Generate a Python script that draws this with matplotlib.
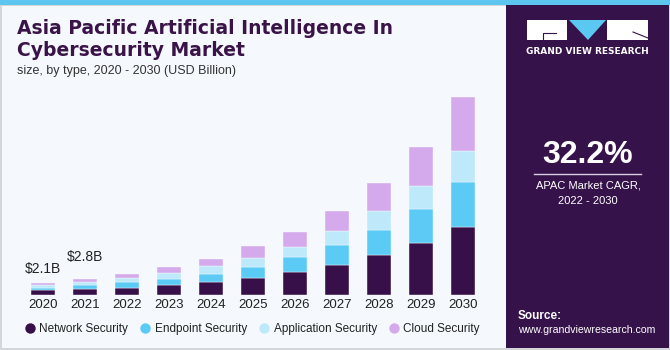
import matplotlib.pyplot as plt
import matplotlib.patches as patches
from matplotlib.colors import LinearSegmentedColormap
from matplotlib.lines import Line2D
import numpy as np

# data (USD Billion)
years = ['2020', '2021', '2022', '2023', '2024', '2025', '2026', '2027', '2028', '2029', '2030']
network = [0.82, 1.00, 1.28, 1.80, 2.33, 3.03, 3.97, 5.20, 6.95, 9.05, 11.90]
endpoint = [0.46, 0.70, 0.95, 1.00, 1.40, 1.93, 2.63, 3.55, 4.43, 6.00, 7.88]
application = [0.47, 0.53, 0.75, 1.05, 1.35, 1.52, 1.86, 2.45, 3.33, 4.03, 5.34]
cloud = [0.35, 0.53, 0.70, 1.05, 1.23, 2.10, 2.63, 3.55, 4.85, 6.88, 9.54]
series_names = ['Network Security', 'Endpoint Security', 'Application Security', 'Cloud Security']
colors = ['#37104A', '#5BCBF5', '#BEE9FA', '#D4AAEC']
value_labels = {0: '$2.1B', 1: '$2.8B'}
label_offsets = {0: 5, 1: 11}

BG = '#F5F9FD'
PANEL = '#36124A'
W, H = 670, 350


def px(x):
    return x / W


def py(y):
    return 1 - y / H


fig = plt.figure(figsize=(6.7, 3.5), dpi=100)
fig.patch.set_facecolor(BG)

# frame, top band and right panel
fig.patches.append(patches.Rectangle((px(1), py(348.5)), px(668), 343.5 / H, transform=fig.transFigure,
                                     facecolor='none', edgecolor='#CDD1D6', lw=1.2))
fig.patches.append(patches.Rectangle((0, py(5)), 1, 5 / H, transform=fig.transFigure,
                                     facecolor='#5DC6EE', edgecolor='none'))
fig.patches.append(patches.Rectangle((px(506), py(348)), px(163), (348 - 5) / H, transform=fig.transFigure,
                                     facecolor=PANEL, edgecolor='none'))

# main chart
ax = fig.add_axes([px(20), py(295), px(466), 228.6 / H])
ax.set_facecolor(BG)
x = np.arange(len(years))
bottom = np.zeros(len(years))
for vals, col, name in zip([network, endpoint, application, cloud], colors, series_names):
    ax.bar(x, vals, width=0.57, bottom=bottom, color=col, edgecolor=BG, linewidth=0.3, label=name)
    bottom = bottom + np.array(vals)

for i, txt in value_labels.items():
    ax.annotate(txt, (x[i], bottom[i]), xytext=(0, label_offsets[i]), textcoords='offset points',
                ha='center', va='bottom', fontsize=10, color='#222222', family='Liberation Sans')

ax.set_xlim(-0.55, 10.55)
ax.set_ylim(0, 40)
ax.set_xticks(x)
ax.set_xticklabels(years, fontsize=9.5, color='#222222', family='Liberation Sans')
ax.tick_params(axis='x', length=0, pad=3)
ax.set_yticks([])
for s in ax.spines.values():
    s.set_visible(False)

handles = [Line2D([], [], marker='o', ls='none', markersize=7.5, markerfacecolor=c, markeredgecolor='none')
           for c in colors]
fig.legend(handles, series_names, loc='center', bbox_to_anchor=(px(252), py(329)), ncol=4, frameon=False,
           prop={'family': 'Liberation Sans', 'size': 8.5}, labelcolor='#222222',
           handletextpad=0.3, columnspacing=0.95, handlelength=1.0)

# titles
fig.text(px(17), py(40), 'Asia Pacific Artificial Intelligence In\nCybersecurity Market', fontsize=13.5,
         fontweight='bold', color='#3A1448', family='DejaVu Sans', va='center', linespacing=1.2)
fig.text(px(17), py(71), 'size, by type, 2020 - 2030 (USD Billion)', fontsize=9, color='#333333',
         family='Liberation Sans', va='center')

# logo
fig.patches.append(patches.Rectangle((px(527), py(40)), px(40), 20 / H, transform=fig.transFigure,
                                     facecolor='white', edgecolor='none'))
fig.patches.append(patches.Rectangle((px(607), py(40)), px(41), 20 / H, transform=fig.transFigure,
                                     facecolor='white', edgecolor='none'))
fig.patches.append(patches.Polygon([(px(569), py(20)), (px(606), py(20)), (px(588), py(40))],
                                   transform=fig.transFigure, facecolor='#5BC8F2', edgecolor='none'))
fig.lines.append(Line2D([px(543), px(543), px(556)], [py(40), py(32.5), py(32.5)],
                        transform=fig.transFigure, color=PANEL, lw=0.8))
fig.lines.append(Line2D([px(633), px(648)], [py(32), py(38)], transform=fig.transFigure, color=PANEL, lw=0.8))
fig.text(px(587.5), py(51), 'GRAND VIEW RESEARCH', fontsize=6.5, fontweight='bold', color='white',
         ha='center', va='center', family='DejaVu Sans')

# CAGR block
fig.text(px(588), py(155), '32.2%', fontsize=23, fontweight='bold', color='white', ha='center', va='center',
         family=['Liberation Sans Narrow', 'Liberation Sans'])
fig.lines.append(Line2D([px(534), px(641)], [py(173.5), py(173.5)], transform=fig.transFigure,
                        color='#D8D0E0', lw=1))
fig.text(px(588), py(185), 'APAC Market CAGR,', fontsize=8, color='white', ha='center', va='center',
         family='Liberation Sans')
fig.text(px(588), py(201), '2022 - 2030', fontsize=8, color='white', ha='center', va='center',
         family='Liberation Sans')

# gradient footer with mesh
axg = fig.add_axes([px(506), py(348), px(163), 65 / H])
cmap = LinearSegmentedColormap.from_list('g', [PANEL, '#3C2A72', '#4872B6', '#5BC2EF'])
grad = np.linspace(0, 1, 100).reshape(-1, 1)
axg.imshow(grad, aspect='auto', cmap=cmap, extent=[0, 1, 1, 0])
for hy in [0.08, 0.2, 0.33, 0.47, 0.62, 0.78]:
    xs = np.linspace(0, 1, 50)
    axg.plot(xs, hy + 0.03 * np.sin(xs * 6 + hy * 5), color='white', alpha=0.12 + 0.1 * (1 - hy), lw=0.6)
for vx in np.linspace(-0.6, 1.6, 24):
    axg.plot([0.5 + (vx - 0.5) * 0.45, vx], [1, 0], color='white', alpha=0.13, lw=0.6)
axg.set_xlim(0, 1)
axg.set_ylim(0, 1)
axg.axis('off')

fig.text(px(518), py(316), 'Source:', fontsize=8.5, fontweight='bold', color='white', va='center',
         family='Liberation Sans')
fig.text(px(518), py(330), 'www.grandviewresearch.com', fontsize=7.6, color='white', va='center',
         family='Liberation Sans')

fig.savefig('out.png', dpi=100, facecolor=fig.get_facecolor())
